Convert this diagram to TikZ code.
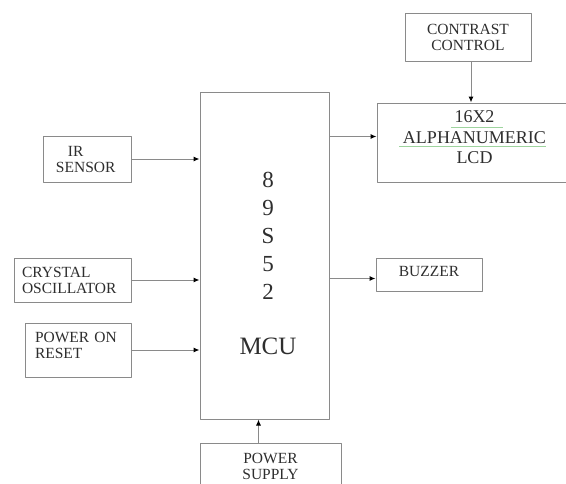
\documentclass[tikz,border=0pt]{standalone}
\usepackage{fontspec}
\setmainfont{Liberation Serif}
\usetikzlibrary{arrows.meta}
\definecolor{linegray}{HTML}{8A8A8A}
\definecolor{textgray}{HTML}{2E2E2E}
\definecolor{spellgreen}{HTML}{9ED49E}
\begin{document}
\begin{tikzpicture}[x=1pt,y=-1pt,line join=round,
	>={Latex[length=6pt,width=5pt,black]},
	blk/.style={draw=linegray,line width=1pt,inner sep=0pt,text=textgray,font=\fontsize{15.5}{16}\selectfont},
	con/.style={->,draw=linegray,line width=1pt}]
	\useasboundingbox (0,0) rectangle (566,483);
	\clip (0,0) rectangle (566,483);
	\node[blk,minimum width=126pt,minimum height=48pt,align=center] (contrast) at (468,37) {CONTRAST\\CONTROL};
	\node[blk,minimum width=195pt,minimum height=79pt,align=center,text depth=10pt,font=\fontsize{18}{20.5}\selectfont] (lcd) at (474.5,142.5) {16X2\\ALPHANUMERIC\\LCD};
	\node[blk,minimum width=129pt,minimum height=327pt] (mcu) at (264.5,255.5) {};
	\node[text=textgray,inner sep=0pt,anchor=north,align=center,font=\fontsize{23}{28}\selectfont] (mcutext) at (268,171.5) {8\\9\\S\\5\\2\\[27pt]{\fontsize{25}{28}\selectfont MCU}};
	\node[blk,minimum width=88pt,minimum height=46pt,text width=62pt,align=left] (ir) at (87,159) {\rule{12pt}{0pt}IR\\SENSOR};
	\node[blk,minimum width=117pt,minimum height=44pt,text width=101pt,align=left] (xtal) at (72.5,280) {CRYSTAL\\OSCILLATOR};
	\node[blk,minimum width=106pt,minimum height=54pt,text width=86pt,align=left,text depth=26pt] (por) at (78,350) {POWER ON\\RESET};
	\node[blk,minimum width=106pt,minimum height=33pt,text depth=6pt] (buzzer) at (429,274.5) {BUZZER};
	\node[blk,minimum width=141pt,minimum height=47pt,align=center] (psu) at (270.5,466.5) {POWER\\SUPPLY};
	\draw[con] (ir.east) -- (ir.east -| mcu.west);
	\draw[con] (xtal.east) -- (xtal.east -| mcu.west);
	\draw[con] (por.east) -- (por.east -| mcu.west);
	\draw[con] ([yshift=6pt]lcd.west -| mcu.east) -- ([yshift=6pt]lcd.west);
	\draw[con] ([yshift=-4pt]buzzer.west -| mcu.east) -- ([yshift=-4pt]buzzer.west);
	\draw[con] ([xshift=3pt]contrast.south) -- ([xshift=3pt]contrast.south |- lcd.north);
	\draw[con] ([xshift=-12pt]psu.north) -- ([xshift=-12pt]psu.north |- mcu.south);
	\draw[spellgreen,line width=1pt] (451,127) -- (503,127) (399,146) -- (546,146);
\end{tikzpicture}
\end{document}
